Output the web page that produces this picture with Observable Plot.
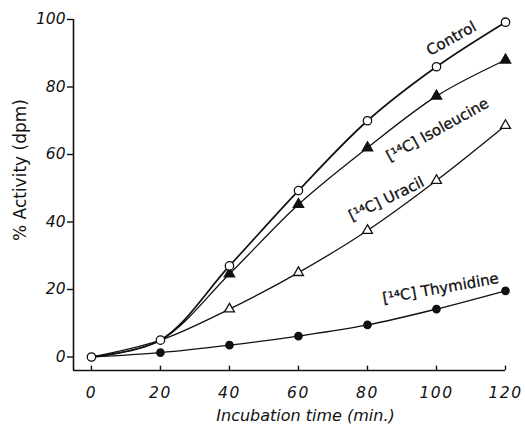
<!DOCTYPE html>
<html><head><meta charset="utf-8">
<script src="https://cdn.jsdelivr.net/npm/d3@7"></script>
<script src="https://cdn.jsdelivr.net/npm/@observablehq/plot@0.6"></script>
<style>body{margin:0;background:#fff} svg{font-family:"DejaVu Sans";}</style>
</head><body><div id="chart"></div>
<script>
const times = [0, 20, 40, 60, 80, 100, 120];
const control = [0, 5, 27, 49.3, 70, 86, 99.2];
const isoleucine = [0, 5, 24.6, 45.2, 62, 77.3, 88];
const uracil = [0, 5, 14.2, 25, 37.5, 52.3, 68.6];
const thymidine = [0, 1.3, 3.5, 6.2, 9.5, 14.2, 19.6];
const xTicks = [0, 20, 40, 60, 80, 100, 120];
const yTicks = [0, 20, 40, 60, 80, 100];
const labelText = ["Control", "[¹⁴C] Isoleucine", "[¹⁴C] Uracil", "[¹⁴C] Thymidine"];
const labelX = [104.3, 100.3, 85.5, 101.2];
const labelY = [94.3, 67.3, 46.8, 20.3];
const labelAngle = [-29, -29, -26, -10];

const seriesNames = ["Control", "Isoleucine", "Uracil", "Thymidine"];
const seriesVals = [control, isoleucine, uracil, thymidine];
const rows = seriesNames.flatMap((s, i) => times.map((t, j) => ({series: s, time: t, value: seriesVals[i][j]})));
const labels = labelText.map((t, i) => ({text: t, x: labelX[i], y: labelY[i], a: labelAngle[i]}));
const pick = s => rows.filter(d => d.series === s);

const chart = Plot.plot({
  width: 525, height: 430,
  marginLeft: 73, marginRight: 20, marginTop: 19, marginBottom: 60,
  x: {domain: [-5.2, 120]},
  y: {domain: [-4, 100]},
  marks: [
    Plot.ruleX([-5.2], {y1: -4, y2: 100, stroke: "#111", strokeWidth: 1.6}),
    Plot.ruleY([-4], {x1: -5.2, x2: 120, stroke: "#111", strokeWidth: 1.6}),
    Plot.ruleX(xTicks, {x: d => d, y1: -4, y2: -2.7, stroke: "#111", strokeWidth: 1.4}),
    Plot.axisY({ticks: yTicks, tickSize: 6, tickPadding: 2, fontSize: 15.5, fontStyle: "italic", label: null, strokeWidth: 1.4, color: "#111"}),
    Plot.axisX({ticks: xTicks, tickSize: 0, tickPadding: 16, fontSize: 15.5, fontStyle: "italic", label: null, color: "#111"}),
    Plot.text(["% Activity (dpm)"], {frameAnchor: "left", dx: -53, dy: 46, rotate: -90, fontSize: 17, fill: "#111"}),
    Plot.text(["Incubation time (min.)"], {frameAnchor: "bottom", dx: 16, dy: 50, fontSize: 16, fontStyle: "italic", fill: "#111", ariaLabel: "xtitle"}),
    ...seriesNames.map(s => Plot.line(pick(s), {x: "time", y: "value", curve: "catmull-rom", stroke: "#111", strokeWidth: s === "Control" ? 1.7 : 1.3})),
    Plot.dot(pick("Thymidine"), {x: "time", y: "value", r: 3.6, fill: "#111", stroke: "#111"}),
    Plot.dot(pick("Uracil"), {x: "time", y: "value", filter: d => d.time > 20, symbol: "triangle", r: 3.7, fill: "white", stroke: "#111", strokeWidth: 1.3}),
    Plot.dot(pick("Isoleucine"), {x: "time", y: "value", filter: d => d.time > 20, symbol: "triangle", r: 3.7, fill: "#111", stroke: "#111"}),
    Plot.dot(pick("Control"), {x: "time", y: "value", r: 4.2, fill: "white", stroke: "#111", strokeWidth: 1.3}),
    Plot.text(labels, {x: "x", y: "y", text: "text", rotate: "a", fontSize: 15, fill: "#111", stroke: "#111", strokeWidth: 0.3, ariaLabel: "serieslabels"})
  ]
});
d3.select(chart).selectAll('g[aria-label="serieslabels"] text').style("letter-spacing", "1.4px");
d3.select(chart).selectAll('g[aria-label="x-axis tick label"] text').style("letter-spacing", "1.5px");
d3.select(chart).selectAll('g[aria-label="xtitle"] text').style("letter-spacing", "1px");
document.getElementById("chart").append(chart);
</script>
</body></html>
